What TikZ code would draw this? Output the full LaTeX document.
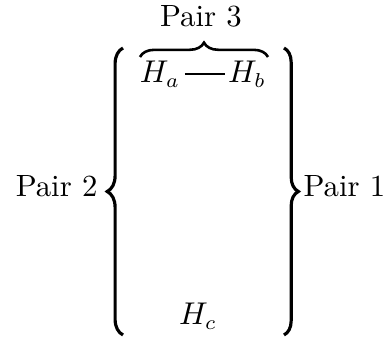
\documentclass[tikz,border=0pt]{standalone}
\usetikzlibrary{decorations.pathreplacing}
\begin{document}
\begin{tikzpicture}[x=0.348pt,y=0.348pt,font=\fontsize{10.7}{13}\selectfont,
 brc/.style={decorate,decoration={brace,amplitude=#1},line width=1.1pt},
 brc/.default=5.5pt,
 lbl/.style={anchor=base,inner sep=0pt}]
\useasboundingbox (0,0) rectangle (389,337);
% the two hydrogen atoms of pair 3, and the third one
\node[lbl] (ha) at (160,254) {$H_a$};
\node[lbl] (hb) at (247,254) {$H_b$};
\node[lbl] (hc) at (198,12) {$H_c$};
\draw[line width=0.7pt,shorten <=1.5pt,shorten >=1pt]
  ([yshift=3pt]ha.base east) -- ([yshift=3pt]hb.base west);
% braces
\coordinate (ob1) at (140,280); \coordinate (ob2) at (268,280);
\coordinate (lb1) at (123,2);   \coordinate (lb2) at (123,289);
\coordinate (rb1) at (284,289); \coordinate (rb2) at (284,2);
\draw[brc=5pt,line width=0.9pt] (ob1) -- (ob2);
\draw[brc] (lb1) -- (lb2);
\draw[brc=5pt] (rb1) -- (rb2);
\node[lbl] (p3) at (201,310) {Pair 3};
\node[lbl,anchor=base east] (p2) at (98,140) {Pair 2};
\node[lbl,anchor=base west] (p1) at (303,140) {Pair 1};
\end{tikzpicture}
\end{document}
